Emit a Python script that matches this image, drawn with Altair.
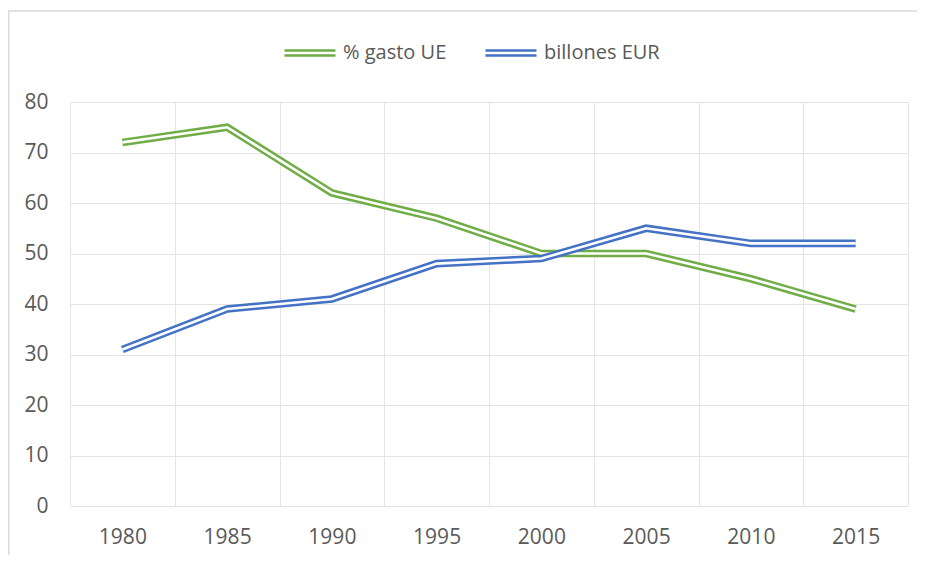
import altair as alt
import pandas as pd

years = ["1980", "1985", "1990", "1995", "2000", "2005", "2010", "2015"]
gasto_ue = [72, 75, 62, 57, 50, 50, 45, 39]
billones_eur = [31, 39, 41, 48, 49, 55, 52, 52]
series_names = ["% gasto UE", "billones EUR"]
series_colors = ["#70AD47", "#4472C4"]
y_ticks = [0, 10, 20, 30, 40, 50, 60, 70, 80]

rows = []
for yr, g, b in zip(years, gasto_ue, billones_eur):
    rows.append({"year": yr, "series": series_names[0], "value": g})
    rows.append({"year": yr, "series": series_names[1], "value": b})
df = pd.DataFrame(rows)

FONT = "Open Sans"
LABEL_COLOR = "#595959"
GRID = "#e4e4e4"

x_enc = alt.X(
    "year:O", sort=years,
    scale=alt.Scale(type="band", paddingInner=0, paddingOuter=0),
    axis=alt.Axis(title=None, labelAngle=0, tickBand="extent", domain=False, ticks=False,
                  grid=True, gridColor=GRID, labelPadding=20, labelFont=FONT,
                  labelFontSize=21, labelColor=LABEL_COLOR),
)
y_enc = alt.Y(
    "value:Q",
    scale=alt.Scale(domain=[0, 80], nice=False),
    axis=alt.Axis(title=None, values=y_ticks, domain=False, ticks=False, grid=True,
                  gridColor=GRID, labelPadding=22, labelFont=FONT, labelFontSize=21,
                  labelColor=LABEL_COLOR),
)

LEG_PATH = "M-1,-0.098L1,-0.098M-1,0.098L1,0.098"
color_enc = alt.Color(
    "series:N",
    scale=alt.Scale(domain=series_names, range=series_colors),
    legend=alt.Legend(title=None, orient="none", legendX=213, legendY=-76,
                      direction="horizontal", symbolType=LEG_PATH, symbolSize=2601,
                      symbolStrokeWidth=2.5, labelFont=FONT, labelFontSize=20,
                      labelColor=LABEL_COLOR, labelOffset=6, columnPadding=33),
)

base = alt.Chart(df)
layers = []
for name in series_names:
    thick = base.transform_filter(alt.datum.series == name).mark_line(
        strokeWidth=7.6, strokeJoin="miter").encode(x=x_enc, y=y_enc, color=color_enc)
    thin = base.transform_filter(alt.datum.series == name).mark_line(
        strokeWidth=2.6, strokeJoin="miter").encode(x=x_enc, y=y_enc, color=alt.value("white"))
    layers += [thick, thin]

frame_df = pd.DataFrame([{"k": 0}])
frame_top = alt.Chart(frame_df).mark_rule(color="#dadada", strokeWidth=1.5).encode(
    x=alt.value(-62), x2=alt.value(850), y=alt.value(-91))
frame_left = alt.Chart(frame_df).mark_rule(color="#dadada", strokeWidth=1.5).encode(
    x=alt.value(-61.2), y=alt.value(-91), y2=alt.value(470))

chart = alt.layer(frame_top, frame_left, *layers).properties(
    width=838, height=404, autosize="none",
    padding={"left": 62, "top": 94, "right": 9, "bottom": 49},
).configure_view(stroke=None)

chart.save("out.html", embed_options={"renderer": "svg", "actions": False})
